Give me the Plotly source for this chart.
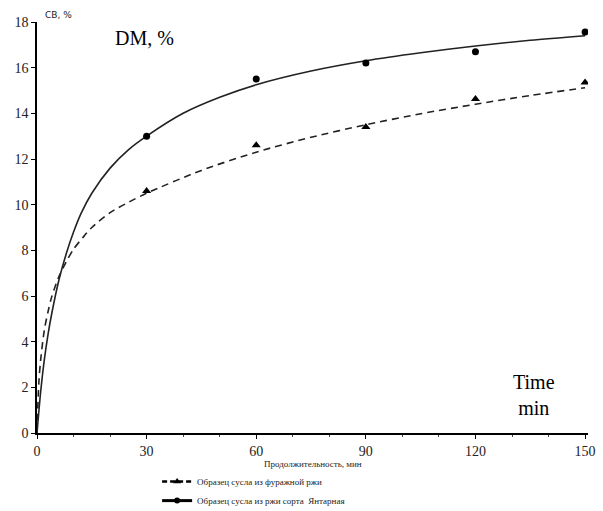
import plotly.graph_objects as go

# Measured points
x_pts = [30, 60, 90, 120, 150]
y_fodder = [10.6, 12.6, 13.4, 14.63, 15.35]      # triangles, dashed
y_yantar = [13.0, 15.5, 16.2, 16.7, 17.56]       # circles, solid

# Fitted curves
x_fit_fodder = [0, 0.5, 1, 2, 3, 4, 6, 8, 10, 12.5, 15, 20, 25, 30, 45, 60, 75, 90, 105, 120, 135, 150]
y_fit_fodder = [0, 2.2, 3.2, 4.5, 5.3, 5.95, 6.85, 7.5, 8.05, 8.55, 9.0, 9.65, 10.1, 10.5, 11.5, 12.3, 12.95, 13.5, 13.98, 14.4, 14.78, 15.12]
x_fit_yantar = [0, 1, 2, 3, 4, 6, 8, 10, 12, 15, 20, 25, 30, 40, 50, 60, 75, 90, 105, 120, 135, 150]
y_fit_yantar = [0, 1.8, 3.2, 4.3, 5.2, 6.7, 7.85, 8.8, 9.6, 10.5, 11.6, 12.4, 13.0, 14.0, 14.7, 15.25, 15.85, 16.3, 16.65, 16.95, 17.2, 17.4]

x_ticks = [0, 30, 60, 90, 120, 150]
y_ticks = [0, 2, 4, 6, 8, 10, 12, 14, 16, 18]

name_fodder = "Образец сусла из фуражной ржи"
name_yantar = "Образец сусла из ржи сорта  Янтарная"

fig = go.Figure()
fig.add_trace(go.Scatter(x=x_fit_fodder, y=y_fit_fodder, mode="lines", line=dict(color="#222", width=1.6, dash="7px,5px", shape="spline", smoothing=0.8), showlegend=False))
fig.add_trace(go.Scatter(x=x_fit_yantar, y=y_fit_yantar, mode="lines", line=dict(color="#222", width=1.6, shape="spline", smoothing=0.8), showlegend=False))
fig.add_trace(go.Scatter(x=x_pts, y=y_fodder, mode="markers", marker=dict(symbol="triangle-up", size=8, color="black"), showlegend=False))
fig.add_trace(go.Scatter(x=x_pts, y=y_yantar, mode="markers", marker=dict(symbol="circle", size=7, color="black"), showlegend=False))
fig.add_trace(go.Scatter(x=[None], y=[None], mode="lines+markers", name=name_fodder,
                         line=dict(color="black", width=2.5, dash="5px,3px"), marker=dict(symbol="triangle-up", size=7, color="black")))
fig.add_trace(go.Scatter(x=[None], y=[None], mode="lines+markers", name=name_yantar,
                         line=dict(color="black", width=3), marker=dict(symbol="circle", size=6, color="black")))

serif = "Liberation Serif, Times New Roman, serif"
fig.update_layout(
    width=603, height=511,
    margin=dict(l=37, r=15, t=22, b=78, autoexpand=False),
    paper_bgcolor="white", plot_bgcolor="white",
    showlegend=True,
    legend=dict(x=0.218, xanchor="left", y=-0.083, yanchor="top", font=dict(family=serif, size=9, color="#222"),
                bgcolor="rgba(0,0,0,0)", traceorder="normal"),
    xaxis=dict(range=[0, 150.8], tickvals=x_ticks, ticks="outside", ticklen=4, tickcolor="black",
               showline=True, linecolor="black", linewidth=1.5, showgrid=False, zeroline=False,
               tickfont=dict(family=serif, size=14, color="#222"),
               minor=dict(dtick=10, tick0=0, ticks="outside", ticklen=2, tickcolor="#444")),
    yaxis=dict(range=[0, 18], tickvals=y_ticks, ticks="outside", ticklen=4, tickcolor="black",
               showline=True, linecolor="black", linewidth=1.5, showgrid=False, zeroline=False,
               tickfont=dict(family=serif, size=14, color="#222")),
    annotations=[
        dict(text="CB, %", xref="paper", yref="paper", x=0.01, y=1.0, xanchor="left", yanchor="bottom",
             showarrow=False, font=dict(family="DejaVu Sans, sans-serif", size=9, color="#222")),
        dict(text="DM, %", x=29.5, y=17.3, xanchor="center", yanchor="middle", showarrow=False,
             font=dict(family=serif, size=20, color="black")),
        dict(text="Time<br>min", x=136, y=1.65, xanchor="center", yanchor="middle", showarrow=False,
             font=dict(family=serif, size=20, color="black")),
        dict(text="Продолжительность, мин", xref="paper", yref="paper", x=0.5, y=-0.058, xanchor="center", yanchor="top",
             showarrow=False, font=dict(family=serif, size=9, color="#222")),
    ],
)
fig.write_html("out.html")
